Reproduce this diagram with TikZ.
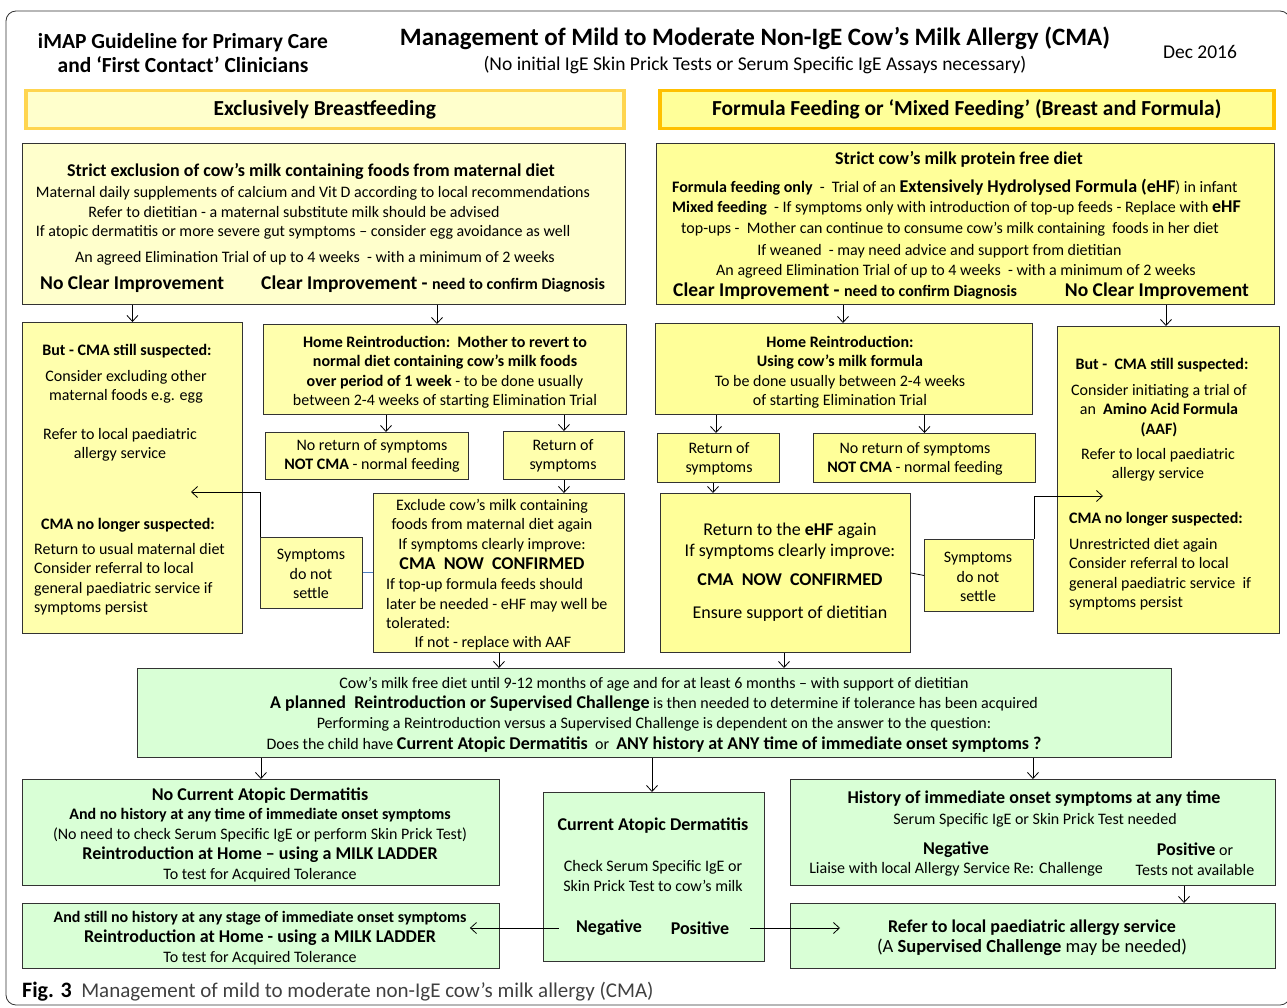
\documentclass[tikz,border=0pt]{standalone}
\usepackage{fontspec}
\setmainfont{Carlito}
\usetikzlibrary{arrows.meta,positioning}

\definecolor{ypale}{HTML}{FFFFCC}
\definecolor{ymid}{HTML}{FFFFAD}
\definecolor{yfull}{HTML}{FFFF99}
\definecolor{edgeL}{HTML}{FFD54F}
\definecolor{edgeR}{HTML}{FFC000}
\definecolor{gfill}{HTML}{D9FFD6}
\definecolor{blueln}{HTML}{4F81BD}

\newcommand\fb{\fontsize{16}{19.5}\selectfont}
\newcommand\fm{\fontsize{18}{20}\selectfont}
\newcommand\fl{\fontsize{19.5}{22}\selectfont}

\tikzset{
  box/.style={draw=black!80, line width=0.9pt, inner sep=0pt, anchor=north west},
  hbox/.style 2 args={box, line width=3.5pt, minimum width=#1, minimum height=#2, font=\bfseries\fontsize{21.4}{24}\selectfont},
  pbox/.style 2 args={box, fill=ypale, minimum width=#1, minimum height=#2},
  mbox/.style 2 args={box, fill=ymid, minimum width=#1, minimum height=#2},
  ybox/.style 2 args={box, fill=yfull, minimum width=#1, minimum height=#2},
  gbox/.style 2 args={box, fill=gfill, minimum width=#1, minimum height=#2},
  arr/.style={-{Straight Barb[length=6pt,width=11pt]}, line width=0.8pt}
}

\begin{document}
\begin{tikzpicture}[x=1pt,y=-1pt, every node/.style={inner sep=0pt,font=\fb}]
\useasboundingbox (0,0) rectangle (1287,1008);
\draw[black!80, line width=0.8pt, rounded corners=10pt] (6,11) rectangle (1290,1005);

% titles
\node[font=\bfseries\fontsize{21.5}{24}\selectfont, align=center] (imap) at (183,53) {iMAP Guideline for Primary Care\\and ‘First Contact’ Clinicians};
\node[font=\bfseries\fontsize{25}{29}\selectfont, anchor=base] (title) at (755,46) {Management of Mild to Moderate Non-IgE Cow’s Milk Allergy (CMA)};
\node[font=\fontsize{19.5}{22}\selectfont, anchor=base] (subt) at (755,71) {(No initial IgE Skin Prick Tests or Serum Specific IgE Assays necessary)};
\node[font=\fontsize{19.5}{22}\selectfont, anchor=base] (date) at (1200,59) {Dec 2016};

\node[hbox={598}{38}, draw=edgeL, fill=ypale] (hdrBF) at (24,89) {Exclusively Breastfeeding};
\node[hbox={614}{38}, draw=edgeR, fill=yfull] (hdrFF) at (658,89) {Formula Feeding or ‘Mixed Feeding’ (Breast and Formula)};

% breastfeeding side
\node[pbox={603}{161}] (exclBF) at (22,143) {};
\node[font=\bfseries\fm, anchor=base] (exclBF1) at (311,177) {Strict exclusion of cow’s milk containing foods from maternal diet};
\node[align=center] (exclBF2) at (313,213) {Maternal daily supplements of calcium and Vit D according to local recommendations\\ \hspace*{-38pt}Refer to dietitian - a maternal substitute milk should be advised\\ \hspace*{-20pt}If atopic dermatitis or more severe gut symptoms – consider egg avoidance as well};
\node[anchor=base] (exclBF3) at (315,263) {An agreed Elimination Trial of up to 4 weeks\ \ - with a minimum of 2 weeks};
\node[font=\bfseries\fl, anchor=base west] (noimpBF) at (40,289) {No Clear Improvement};
\node[font=\bfseries\fl, anchor=base west] (impBF) at (261,289) {Clear Improvement - {\fb need to confirm Diagnosis}};

\node[mbox={220}{311}] (suspBF) at (22,322) {};
\node[font=\bfseries\fb] (suspBF1) at (127,351) {But - CMA still suspected:};
\node[align=center] (suspBF2) at (126,387) {Consider excluding other\\maternal foods e.g. egg};
\node[align=center] (suspBF3) at (120,445) {Refer to local paediatric\\allergy service};
\node[font=\bfseries\fb] (suspBF4) at (128,525) {CMA no longer suspected:};
\node[align=left, anchor=west] (suspBF5) at (34,579) {Return to usual maternal diet\\Consider referral to local\\general paediatric service if\\symptoms persist};

\node[mbox={363}{90}] (homeBF) at (263,324) {};
\node[align=center] (homeBF1) at (445,372) {\textbf{Home Reintroduction:\ \ Mother to revert to}\\\textbf{normal diet containing cow’s milk foods}\\\textbf{over period of 1 week} - to be done usually\\between 2-4 weeks of starting Elimination Trial};
\node[mbox={203}{47}] (noretBF) at (265,432) {};
\node[align=center] (noretBF1) at (372,456) {No return of symptoms\\\textbf{NOT CMA} - normal feeding};
\node[mbox={121}{48}] (retBF) at (503,431) {};
\node[align=center] (retBF1) at (563,456) {Return of\\symptoms};
\node[mbox={251}{159}] (confBF) at (373,493) {};
\node[align=center] (confBF1) at (492,534.5) {Exclude cow’s milk containing\\foods from maternal diet again\\If symptoms clearly improve:\\[1pt]{\bfseries\fm CMA\ \ NOW\ \ CONFIRMED}};
\node[align=left, anchor=west] (confBF2) at (386,604) {If top-up formula feeds should\\later be needed - eHF may well be\\tolerated:};
\node (confBF3) at (493,643) {If not - replace with AAF};
\node[mbox={102}{71}] (settleBF) at (260,537) {};
\node[align=center] (settleBF1) at (311,574) {Symptoms\\do not\\settle};

% formula side
\node[ybox={618}{161}] (exclFF) at (656,143) {};
\node[font=\bfseries\fm, anchor=base] (exclFF1) at (959,165) {Strict cow’s milk protein free diet};
\node[align=left, anchor=west] (exclFF2) at (672,207.5) {\textbf{Formula feeding only}\ \ -\ \ Trial of an {\bfseries\fm Extensively Hydrolysed Formula (eHF}) in infant\\[1pt]\textbf{Mixed feeding}\ \ - If symptoms only with introduction of top-up feeds - Replace with {\bfseries\fm eHF}\\[1.5pt]\hspace*{9pt}top-ups -\ \ Mother can continue to consume cow’s milk containing\ \ foods in her diet};
\node[align=center] (exclFF3) at (956,261.5) {\hspace*{-33pt}If weaned\ \ - may need advice and support from dietitian\\An agreed Elimination Trial of up to 4 weeks\ \ - with a minimum of 2 weeks};
\node[font=\bfseries\fl, anchor=base west] (impFF) at (673,296) {Clear Improvement - {\fb need to confirm Diagnosis}};
\node[font=\bfseries\fl, anchor=base east] (noimpFF) at (1249,296) {No Clear Improvement};

\node[ybox={377}{91}] (homeFF) at (655,323) {};
\node[align=center] (homeFF1) at (840,372) {\textbf{Home Reintroduction:}\\\textbf{Using cow’s milk formula}\\To be done usually between 2-4 weeks\\of starting Elimination Trial};
\node[ybox={122}{49}] (retFF) at (657,433) {};
\node[align=center] (retFF1) at (719,459) {Return of\\symptoms};
\node[ybox={222}{49}] (noretFF) at (813,433) {};
\node[align=center] (noretFF1) at (915,459) {No return of symptoms\\\textbf{NOT CMA} - normal feeding};
\node[ybox={250}{159}] (confFF) at (660,493) {};
\node[align=center, font=\fontsize{18}{21}\selectfont] (confFF1) at (790,572.5) {Return to the \textbf{eHF} again\\If symptoms clearly improve:\\[8pt]\textbf{CMA\ \ NOW\ \ CONFIRMED}\\[12pt]Ensure support of dietitian};
\node[ybox={109}{72}] (settleFF) at (924,539) {};
\node[align=center] (settleFF1) at (978,577) {Symptoms\\do not\\settle};
\node[ybox={222}{307}] (suspFF) at (1057,326) {};
\node[font=\bfseries\fb] (suspFF1) at (1162,365) {But -\ \ CMA still suspected:};
\node[align=center] (suspFF2) at (1159,410.5) {Consider initiating a trial of\\an\ \ \textbf{Amino Acid Formula}\\\textbf{(AAF)}};
\node[align=center] (suspFF3) at (1158,465) {Refer to local paediatric\\allergy service};
\node[font=\bfseries\fb, anchor=west] (suspFF4) at (1069,519) {CMA no longer suspected:};
\node[align=left, anchor=west] (suspFF5) at (1069,574) {Unrestricted diet again\\Consider referral to local\\general paediatric service\ \ if\\symptoms persist};

% reintroduction
\node[gbox={1034}{89}] (plan) at (137,668) {};
\node[align=center] (plan1) at (654,715) {Cow’s milk free diet until 9-12 months of age and for at least 6 months – with support of dietitian\\[0.5pt]{\bfseries\fm A planned\ \ Reintroduction or Supervised Challenge} is then needed to determine if tolerance has been acquired\\[0.5pt]Performing a Reintroduction versus a Supervised Challenge is dependent on the answer to the question:\\[1pt]Does the child have {\bfseries\fm Current Atopic Dermatitis}\ \ or\ \ {\bfseries\fm ANY history at ANY time of immediate onset symptoms ?}};

\node[gbox={477}{106}] (noAD) at (22,779) {};
\node[align=center] (noAD1) at (260,835) {{\bfseries\fm No Current Atopic Dermatitis}\\\textbf{And no history at any time of immediate onset symptoms}\\(No need to check Serum Specific IgE or perform Skin Prick Test)\\[1pt]{\bfseries\fm Reintroduction at Home – using a MILK LADDER}\\[0.5pt]To test for Acquired Tolerance};
\node[gbox={477}{65}] (ladder) at (22,903) {};
\node[align=center] (ladder1) at (260,938.5) {\textbf{And still no history at any stage of immediate onset symptoms}\\[0.5pt]{\bfseries\fm Reintroduction at Home - using a MILK LADDER}\\[0.5pt]To test for Acquired Tolerance};

\node[gbox={221}{169}] (curAD) at (543,792) {};
\node[font=\bfseries\fm] (curAD1) at (653,826) {Current Atopic Dermatitis};
\node[align=center] (curAD2) at (653,876) {Check Serum Specific IgE or\\Skin Prick Test to cow’s milk};
\node[font=\bfseries\fm] (curNeg) at (609,928) {Negative};
\node[font=\bfseries\fm] (curPos) at (700,928) {Positive};

\node[gbox={485}{106}] (hist) at (790,779) {};
\node[font=\bfseries\fm] (hist1) at (1034,799) {History of immediate onset symptoms at any time};
\node (hist2) at (1035,820.5) {Serum Specific IgE or Skin Prick Test needed};
\node[align=center] (histNeg) at (956,859) {{\bfseries\fm Negative}\\Liaise with local Allergy Service Re: Challenge};
\node[align=center] (histPos) at (1195,859) {{\bfseries\fm Positive} or\\Tests not available};
\node[gbox={485}{65}] (refer) at (790,903) {};
\node[align=center] (refer1) at (1032,937.5) {{\bfseries\fm Refer to local paediatric allergy service}\\[1pt]{\fontsize{18.5}{20}\selectfont (A \textbf{Supervised Challenge} may be needed)}};

% connectors
\draw[arr] (exclBF.south -| suspBF.north) -- (suspBF.north);
\draw[arr] (exclBF.south -| 437,0) -- (homeBF.north -| 437,0);
\draw[arr] (homeBF.south -| 386,0) -- (noretBF.north -| 386,0);
\draw[arr] (homeBF.south -| retBF.north) -- (retBF.north);
\draw[arr] (retBF.south) -- (confBF.north -| retBF.south);
\draw[blueln, line width=1pt] (settleBF.east) -- (settleBF.east -| confBF.west);
\coordinate (tipBF) at (191,492);
\draw[arr] (settleBF.north west) |- (tipBF);

\draw[arr] (exclFF.south -| 843,0) -- (homeFF.north -| 843,0);
\draw[arr] (exclFF.south -| 1166,0) -- (suspFF.north -| 1166,0);
\draw[arr] (homeFF.south -| 716,0) -- (retFF.north -| 716,0);
\draw[arr] (homeFF.south -| noretFF.north) -- (noretFF.north);
\draw[arr] (retFF.south -| 713,0) -- (confFF.north -| 713,0);
\draw[line width=0.8pt] (confFF.east) -- (settleFF.west);
\coordinate (tipFF) at (1103,496);
\draw[arr] (settleFF.north east) |- (tipFF);

\draw[arr] (confBF.south) -- (plan.north -| confBF.south);
\draw[arr] (confFF.south -| 784,0) -- (plan.north -| 784,0);
\draw[arr] (plan.south -| noAD.north) -- (noAD.north);
\draw[arr] (plan.south -| 652,0) -- (curAD.north -| 652,0);
\draw[arr] (plan.south -| hist.north) -- (hist.north);
\draw[arr] (hist.south -| 1184,0) -- (refer.north -| 1184,0);
\draw[arr] ([xshift=-17]curNeg.west) -- ([xshift=-30]ladder.east |- curNeg.west);
\draw[arr] ([xshift=21]curPos.east) -- ([xshift=50]refer.west |- curPos.east);

% caption
\node[anchor=base west, font=\fontsize{21}{24}\selectfont, text=black!75] (cap) at (22,997) {\textcolor{black}{\fontsize{22}{24}\selectfont\bfseries Fig. 3}\ \ Management of mild to moderate non-IgE cow’s milk allergy (CMA)};
\end{tikzpicture}
\end{document}
